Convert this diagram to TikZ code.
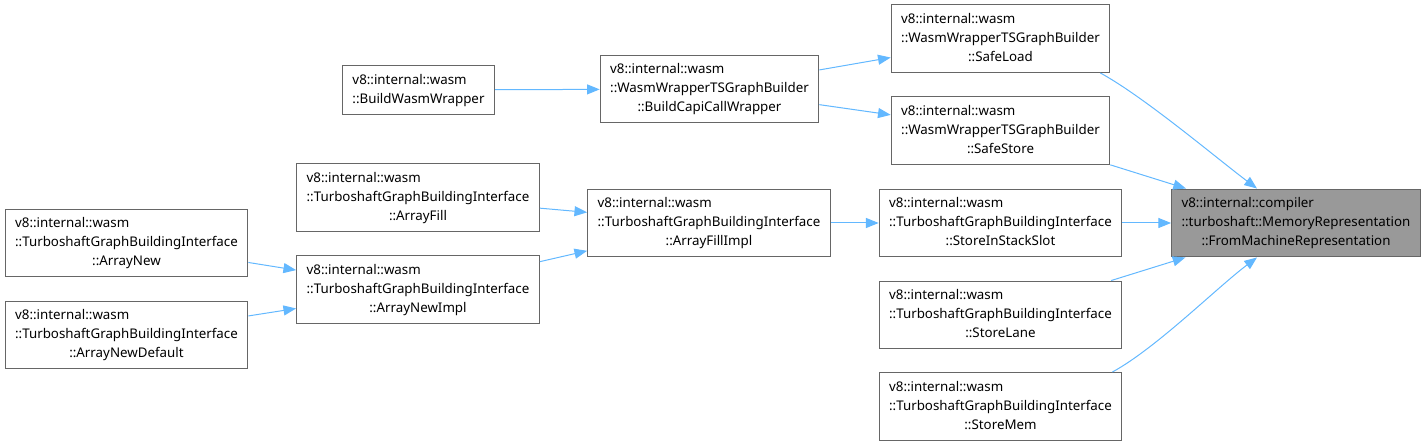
\documentclass[tikz,border=0pt]{standalone}
\usepackage{fontspec}
\setmainfont{Noto Sans}
\usetikzlibrary{arrows.meta, calc}

\definecolor{edgeblue}{HTML}{63B8FF}
\definecolor{boxgray}{HTML}{666666}
\definecolor{hlgray}{HTML}{999999}

\newcommand{\doxlabel}[2]{\begin{tabular}{@{}l@{}}#1\\\multicolumn{1}{@{}c@{}}{#2}\end{tabular}}

\begin{document}
\begin{tikzpicture}[
    x=0.75pt, y=0.75pt,
    >={Triangle[length=9.5pt, width=7.5pt]},
    fn/.style={
        draw=boxgray,
        line width=0.75pt,
        fill=white,
        inner xsep=7.5pt,
        inner ysep=4.1pt,
        font=\fontsize{10}{14.25}\selectfont
    },
    focus/.style={fn, fill=hlgray},
    call/.style={->, draw=edgeblue, line width=0.75pt}
]
\useasboundingbox (0,0) rectangle (1427,446);

\node[fn] (bww) at (418.5,356) {\doxlabel{v8::internal::wasm}{::BuildWasmWrapper}};
\node[fn] (capi) at (709.5,357) {\doxlabel{v8::internal::wasm\\::WasmWrapperTSGraphBuilder}{::BuildCapiCallWrapper}};
\node[fn] (safeload) at (1000.5,407.5) {\doxlabel{v8::internal::wasm\\::WasmWrapperTSGraphBuilder}{::SafeLoad}};
\node[fn] (safestore) at (1000.5,315.5) {\doxlabel{v8::internal::wasm\\::WasmWrapperTSGraphBuilder}{::SafeStore}};
\node[fn] (stackslot) at (1000.5,223) {\doxlabel{v8::internal::wasm\\::TurboshaftGraphBuildingInterface}{::StoreInStackSlot}};
\node[fn] (storelane) at (1000.5,131) {\doxlabel{v8::internal::wasm\\::TurboshaftGraphBuildingInterface}{::StoreLane}};
\node[fn] (storemem) at (1000.5,39.5) {\doxlabel{v8::internal::wasm\\::TurboshaftGraphBuildingInterface}{::StoreMem}};
\node[focus] (fmr) at (1296,223) {\doxlabel{v8::internal::compiler\\::turboshaft::MemoryRepresentation}{::FromMachineRepresentation}};
\node[fn] (fillimpl) at (709,223) {\doxlabel{v8::internal::wasm\\::TurboshaftGraphBuildingInterface}{::ArrayFillImpl}};
\node[fn] (arrayfill) at (418,248.5) {\doxlabel{v8::internal::wasm\\::TurboshaftGraphBuildingInterface}{::ArrayFill}};
\node[fn] (newimpl) at (418,156.5) {\doxlabel{v8::internal::wasm\\::TurboshaftGraphBuildingInterface}{::ArrayNewImpl}};
\node[fn] (arraynew) at (126.5,203) {\doxlabel{v8::internal::wasm\\::TurboshaftGraphBuildingInterface}{::ArrayNew}};
\node[fn] (newdefault) at (126.5,111) {\doxlabel{v8::internal::wasm\\::TurboshaftGraphBuildingInterface}{::ArrayNewDefault}};

% calls
\draw[call] (bww) -- (capi);
\draw[call] (capi) -- (safeload);
\draw[call] (capi) -- (safestore);
\draw[call] ($(safeload.south east)+(-10,0)$) .. controls +(44,-24) and +(-40,30) .. ($(fmr.north)+(-39,0)$);
\draw[call] (safestore) -- (fmr);
\draw[call] (stackslot) -- (fmr);
\draw[call] (storelane) -- (fmr);
\draw[call] ($(storemem.north east)+(-10,0)$) .. controls +(44,24) and +(-40,-30) .. ($(fmr.south)+(-39,0)$);
\draw[call] (arrayfill) -- (fillimpl);
\draw[call] (newimpl) -- (fillimpl);
\draw[call] (fillimpl) -- (stackslot);
\draw[call] (arraynew) -- (newimpl);
\draw[call] (newdefault) -- (newimpl);
\end{tikzpicture}
\end{document}
